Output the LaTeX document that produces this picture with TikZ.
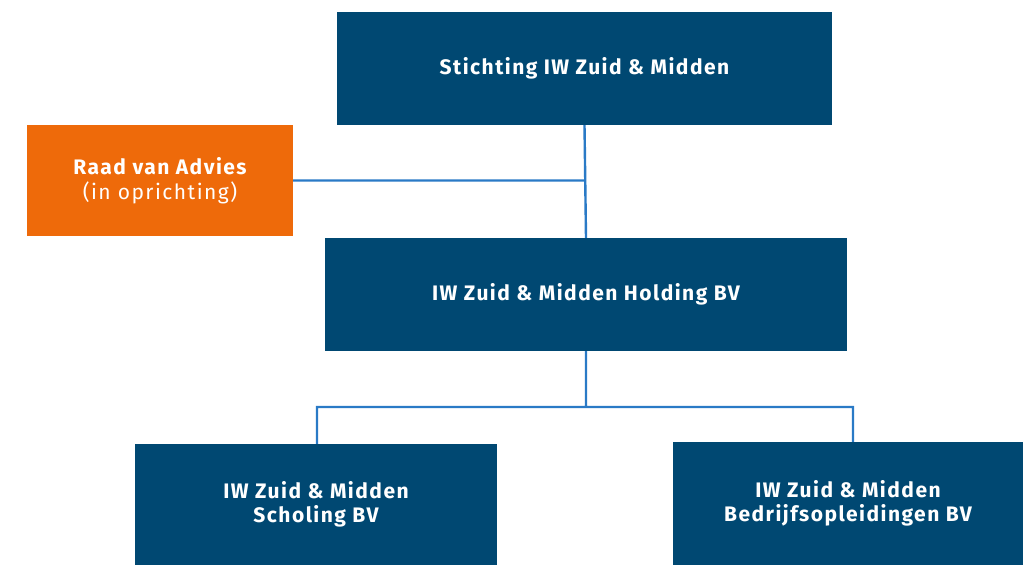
\documentclass[tikz,border=0pt]{standalone}
\usepackage{fontspec}
\setmainfont{Fira Sans}[LetterSpace=7]
\usetikzlibrary{positioning}

\definecolor{iwblue}{HTML}{004872}
\definecolor{iworange}{HTML}{EE6A0A}
\definecolor{iwline}{HTML}{2A7AC6}

\begin{document}
\begin{tikzpicture}[x=1pt,y=-1pt,
    box/.style={fill=iwblue,text=white,font=\fontsize{21}{24}\selectfont\bfseries,align=center,inner sep=0pt},
    adviesbox/.style={box,fill=iworange},
    conn/.style={draw=iwline,line width=2.4pt}]
  \useasboundingbox (0,0) rectangle (1023,565);
  \node[box,minimum width=495pt,minimum height=113pt] (stichting) at (584.5,68.5) {Stichting IW Zuid \& Midden};
  \node[adviesbox,minimum width=266pt,minimum height=111pt] (raad) at (160,180.5)
    {Raad van Advies\\[1pt]\mdseries (in oprichting)};
  \node[box,minimum width=522pt,minimum height=113pt] (holding) at (586,294.5) {IW Zuid \& Midden Holding BV};
  \node[box,minimum width=362pt,minimum height=121pt] (scholing) at (316,504.5) {IW Zuid \& Midden\\Scholing BV};
  \node[box,minimum width=350pt,minimum height=123pt] (bedrijf) at (848,503.5) {IW Zuid \& Midden\\Bedrijfsopleidingen BV};
  \coordinate (split) at (586,407);
  \path[conn]
    (stichting.south) -- (holding.north)
    (raad.east) -- (raad.east -| stichting.south)
    (holding.south) -- (split)
    ([xshift=1pt]scholing.north) |- (split) -| ([xshift=5pt]bedrijf.north);
\end{tikzpicture}
\end{document}
